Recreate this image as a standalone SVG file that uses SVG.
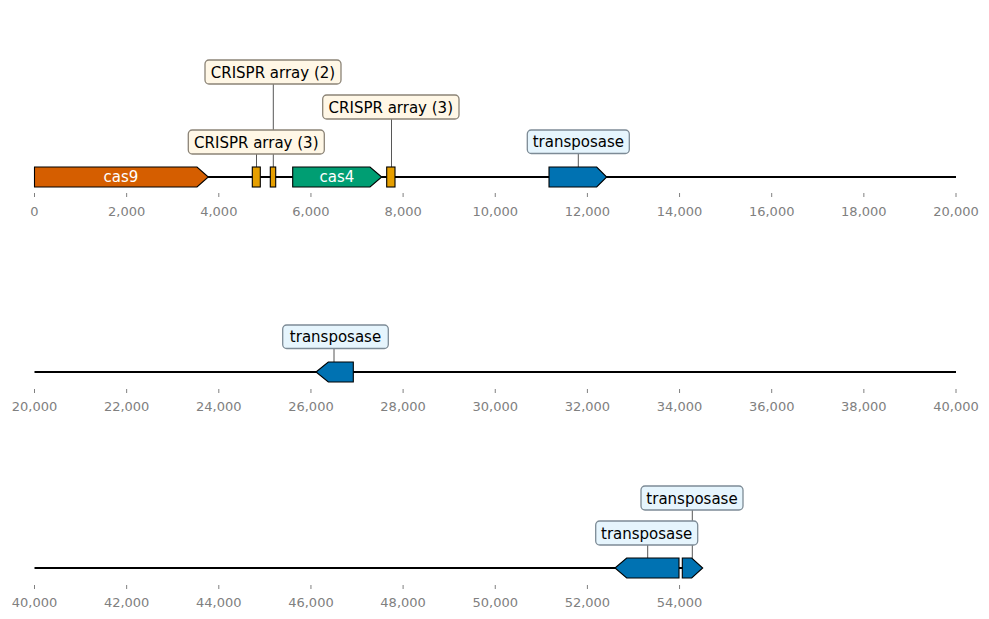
<svg xmlns="http://www.w3.org/2000/svg" width="989" height="619" viewBox="0 0 989 619">
<style>
.axis{stroke:#000;stroke-width:2;fill:none}
.tick{stroke:#808080;stroke-width:1}
.tl{font-family:"DejaVu Sans",sans-serif;font-size:13px;fill:#808080;text-anchor:middle}
.feat{stroke:#000;stroke-width:1.1}
.leader{stroke:#444;stroke-width:0.9}
.lbl{font-family:"DejaVu Sans",sans-serif;font-size:15px;fill:#000;text-anchor:middle}
.inl{font-family:"DejaVu Sans",sans-serif;font-size:15px;fill:#fff;text-anchor:middle}
.bc{fill:#fff7e6;stroke:#8c8477;stroke-width:1.3}
.bt{fill:#e6f5fd;stroke:#7d8b96;stroke-width:1.3}
</style>
<rect width="989" height="619" fill="#fff"/>
<g id="axes">
<line class="axis" x1="34.5" y1="177" x2="956" y2="177"/>
<line class="axis" x1="34.5" y1="372" x2="956" y2="372"/>
<line class="axis" x1="34.5" y1="568" x2="700" y2="568"/>
<g class="tick">
<path d="M34.5,193V197M126.65,193V197M218.8,193V197M310.95,193V197M403.1,193V197M495.25,193V197M587.4,193V197M679.55,193V197M771.7,193V197M863.85,193V197M956,193V197"/>
<path d="M34.5,389V393M126.65,389V393M218.8,389V393M310.95,389V393M403.1,389V393M495.25,389V393M587.4,389V393M679.55,389V393M771.7,389V393M863.85,389V393M956,389V393"/>
<path d="M34.5,585V589M126.65,585V589M218.8,585V589M310.95,585V589M403.1,585V589M495.25,585V589M587.4,585V589M679.55,585V589"/>
</g>
<g class="tl">
<text x="34.5" y="215.5">0</text><text x="126.65" y="215.5">2,000</text><text x="218.8" y="215.5">4,000</text><text x="310.95" y="215.5">6,000</text><text x="403.1" y="215.5">8,000</text><text x="495.25" y="215.5">10,000</text><text x="587.4" y="215.5">12,000</text><text x="679.55" y="215.5">14,000</text><text x="771.7" y="215.5">16,000</text><text x="863.85" y="215.5">18,000</text><text x="956" y="215.5">20,000</text>
<text x="34.5" y="411">20,000</text><text x="126.65" y="411">22,000</text><text x="218.8" y="411">24,000</text><text x="310.95" y="411">26,000</text><text x="403.1" y="411">28,000</text><text x="495.25" y="411">30,000</text><text x="587.4" y="411">32,000</text><text x="679.55" y="411">34,000</text><text x="771.7" y="411">36,000</text><text x="863.85" y="411">38,000</text><text x="956" y="411">40,000</text>
<text x="34.5" y="606.5">40,000</text><text x="126.65" y="606.5">42,000</text><text x="218.8" y="606.5">44,000</text><text x="310.95" y="606.5">46,000</text><text x="403.1" y="606.5">48,000</text><text x="495.25" y="606.5">50,000</text><text x="587.4" y="606.5">52,000</text><text x="679.55" y="606.5">54,000</text>
</g>
</g>
<g id="connectors">
<line class="leader" x1="273.3" y1="84" x2="273.3" y2="167"/>
<line class="leader" x1="256.5" y1="154" x2="256.5" y2="167"/>
<line class="leader" x1="391.5" y1="119" x2="391.5" y2="167"/>
<line class="leader" x1="578.3" y1="153.5" x2="578.3" y2="167"/>
<line class="leader" x1="334" y1="348.5" x2="334" y2="362"/>
<line class="leader" x1="647.7" y1="545" x2="647.7" y2="558"/>
<line class="leader" x1="692.3" y1="510" x2="692.3" y2="558"/>
</g>
<g id="cas9"><path class="feat" fill="#D55E00" d="M34.5,167L197,167L208.3,177L197,187L34.5,187Z"/><text class="inl" x="121" y="182.3">cas9</text></g>
<g id="crispr1"><rect class="feat" fill="#E69F00" x="252.3" y="167" width="8" height="20"/></g>
<g id="crispr2"><rect class="feat" fill="#E69F00" x="270.3" y="167" width="5.4" height="20"/></g>
<g id="cas4"><path class="feat" fill="#009E73" d="M292.7,167L370,167L381.7,177L370,187L292.7,187Z"/><text class="inl" x="337" y="182.3">cas4</text></g>
<g id="crispr3"><rect class="feat" fill="#E69F00" x="386.7" y="167" width="8.3" height="20"/></g>
<g id="transposase1"><path class="feat" fill="#0072B2" d="M549,167L596.7,167L606.7,177L596.7,187L549,187Z"/></g>
<g id="transposase2"><path class="feat" fill="#0072B2" d="M316,372L328.3,362L353.3,362L353.3,382L328.3,382Z"/></g>
<g id="transposase3"><path class="feat" fill="#0072B2" d="M615,568L626.7,558L679,558L679,578L626.7,578Z"/></g>
<g id="transposase4"><path class="feat" fill="#0072B2" d="M682.3,558L691.7,558L702.7,568L691.7,578L682.3,578Z"/></g>
<g id="label-crispr2"><rect class="bc" x="205" y="60" width="136" height="24" rx="4"/><text class="lbl" x="273" y="77.5">CRISPR array (2)</text></g>
<g id="label-crispr3a"><rect class="bc" x="188.3" y="130" width="136" height="24" rx="4"/><text class="lbl" x="256.3" y="147.5">CRISPR array (3)</text></g>
<g id="label-crispr3b"><rect class="bc" x="322.7" y="95" width="136.3" height="24" rx="4"/><text class="lbl" x="390.8" y="112.5">CRISPR array (3)</text></g>
<g id="label-tr1"><rect class="bt" x="527.3" y="130" width="102" height="23.5" rx="4"/><text class="lbl" x="578.3" y="147.3">transposase</text></g>
<g id="label-tr2"><rect class="bt" x="282.7" y="325" width="105.6" height="23.5" rx="4"/><text class="lbl" x="335.5" y="342.3">transposase</text></g>
<g id="label-tr3"><rect class="bt" x="595.7" y="521" width="102" height="24" rx="4"/><text class="lbl" x="646.7" y="538.5">transposase</text></g>
<g id="label-tr4"><rect class="bt" x="641" y="486" width="102" height="24" rx="4"/><text class="lbl" x="692" y="503.5">transposase</text></g>
</svg>
